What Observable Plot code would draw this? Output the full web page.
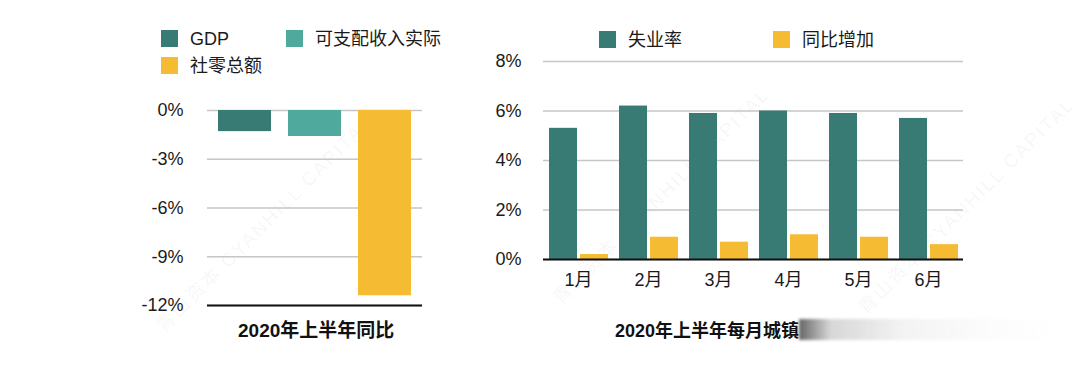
<!DOCTYPE html>
<html>
<head>
<meta charset="utf-8">
<script src="https://cdn.jsdelivr.net/npm/d3@7"></script>
<script src="https://cdn.jsdelivr.net/npm/@observablehq/plot@0.6"></script>
<style>
  html, body { margin: 0; padding: 0; background: #fff; }
  #root { position: relative; width: 1080px; height: 387px; overflow: hidden; background: #fff;
          font-family: "Liberation Sans", Arial, "Noto Sans CJK SC", sans-serif; color: #1a1a1a; }
  .abs { position: absolute; }
  .sw { position: absolute; width: 17px; height: 17px; }
  .lt { position: absolute; font-size: 18px; line-height: 18px; white-space: nowrap; }
  .ttl { position: absolute; font-weight: bold; white-space: nowrap; color: #111; }
  .wm { position: absolute; white-space: nowrap; font-size: 19px; color: rgba(0,0,0,0.05);
        transform-origin: 0 0; transform: rotate(-45deg); letter-spacing: 2px; pointer-events: none; }
</style>
</head>
<body>
<div id="root"></div>
<script>
// ---- data ----
const leftCategories = ["GDP", "可支配收入实际", "社零总额"];
const leftValues = [-1.3, -1.6, -11.4];
const leftTicks = [0, -3, -6, -9, -12];

const months = ["1月", "2月", "3月", "4月", "5月", "6月"];
const seriesNames = ["失业率", "同比增加"];
const unemployment = [5.3, 6.2, 5.9, 6.0, 5.9, 5.7];
const yoyIncrease = [0.2, 0.9, 0.7, 1.0, 0.9, 0.6];
const rightTicks = [0, 2, 4, 6, 8];

const leftColors = ["#387b74", "#4fa99d", "#f5bb33"];
const rightColors = ["#387b74", "#f5bb33"];

const fontFamily = '"Liberation Sans", Arial, "Noto Sans CJK SC", sans-serif';
const root = document.getElementById("root");

// ---- watermarks (behind) ----
const wmText = "青山资本  CYANHILL CAPITAL";
[[148, 318], [545, 290], [850, 300]].forEach(([x, y]) => {
  const w = document.createElement("div"); w.className = "wm";
  w.style.left = x + "px"; w.style.top = y + "px"; w.textContent = wmText;
  root.appendChild(w);
});

// ---- left chart ----
const leftData = leftCategories.map((c, i) => ({cat: c, v: leftValues[i]}));
const left = Plot.plot({
  width: 460, height: 387,
  marginLeft: 207, marginRight: 38, marginTop: 110, marginBottom: 82,
  style: {fontFamily, fontSize: "18px", color: "#1a1a1a", background: "transparent"},
  x: {domain: leftCategories, paddingInner: 0.24, paddingOuter: 0.135, axis: null},
  y: {domain: [-12, 0], ticks: leftTicks, tickFormat: d => d + "%", label: null, tickSize: 0, tickPadding: 24},
  color: {domain: leftCategories, range: leftColors},
  marks: [
    Plot.gridY(leftTicks, {stroke: "#c6c6c6", strokeOpacity: 1, strokeWidth: 1.5}),
    Plot.barY(leftData, {x: "cat", y: "v", fill: "cat"}),
    Plot.ruleY([-12], {stroke: "#111", strokeWidth: 2})
  ]
});
left.style.position = "absolute"; left.style.left = "0px"; left.style.top = "0px";
root.appendChild(left);

// ---- right chart ----
const rightData = [];
months.forEach((m, i) => {
  rightData.push({month: m, s: seriesNames[0], v: unemployment[i]});
  rightData.push({month: m, s: seriesNames[1], v: yoyIncrease[i]});
});
const right = Plot.plot({
  width: 620, height: 387,
  marginLeft: 83, marginRight: 117, marginTop: 61, marginBottom: 128,
  style: {fontFamily, fontSize: "18px", color: "#1a1a1a", background: "transparent"},
  fx: {domain: months, padding: 0, label: null, tickSize: 0, tickPadding: 14},
  x: {domain: seriesNames, paddingInner: 0.1, paddingOuter: 0.175, axis: null},
  y: {domain: [0, 8], ticks: rightTicks, tickFormat: d => d + "%", label: null, tickSize: 0, tickPadding: 22},
  color: {domain: seriesNames, range: rightColors},
  marks: [
    Plot.gridY(rightTicks, {stroke: "#c6c6c6", strokeOpacity: 1, strokeWidth: 1.5}),
    Plot.barY(rightData, {fx: "month", x: "s", y: "v", fill: "s"}),
    Plot.ruleY([0], {stroke: "#111", strokeWidth: 2})
  ]
});
right.style.position = "absolute"; right.style.left = "460px"; right.style.top = "0px";
root.appendChild(right);

// ---- legends ----
function legendItem(x, y, color, text) {
  const s = document.createElement("div"); s.className = "sw";
  s.style.left = x + "px"; s.style.top = y + "px"; s.style.background = color;
  root.appendChild(s);
  const t = document.createElement("div"); t.className = "lt";
  t.style.left = (x + 29) + "px"; t.style.top = (y) + "px"; t.textContent = text;
  root.appendChild(t);
}
legendItem(161, 30, leftColors[0], leftCategories[0]);
legendItem(286, 30, leftColors[1], leftCategories[1]);
legendItem(161, 57, leftColors[2], leftCategories[2]);
legendItem(599, 31, rightColors[0], seriesNames[0]);
legendItem(773, 31, rightColors[1], seriesNames[1]);

// ---- titles ----
const t1 = document.createElement("div"); t1.className = "ttl";
t1.style.left = "238px"; t1.style.top = "315px"; t1.style.fontSize = "19px";
t1.textContent = "2020年上半年同比"; root.appendChild(t1);
const t2 = document.createElement("div"); t2.className = "ttl";
t2.style.left = "615px"; t2.style.top = "316px"; t2.style.fontSize = "18px";
t2.textContent = "2020年上半年每月城镇"; root.appendChild(t2);
const fade = document.createElement("div"); fade.className = "abs";
fade.style.left = "799px"; fade.style.top = "319px"; fade.style.width = "262px"; fade.style.height = "21px";
fade.style.background = "linear-gradient(to right, rgba(50,50,50,0.75), rgba(140,140,140,0.35) 12%, rgba(200,200,200,0.22) 40%, rgba(235,235,235,0.15) 75%, rgba(255,255,255,0) 100%)";
fade.style.filter = "blur(1.5px)";
root.appendChild(fade);
</script>
</body>
</html>
